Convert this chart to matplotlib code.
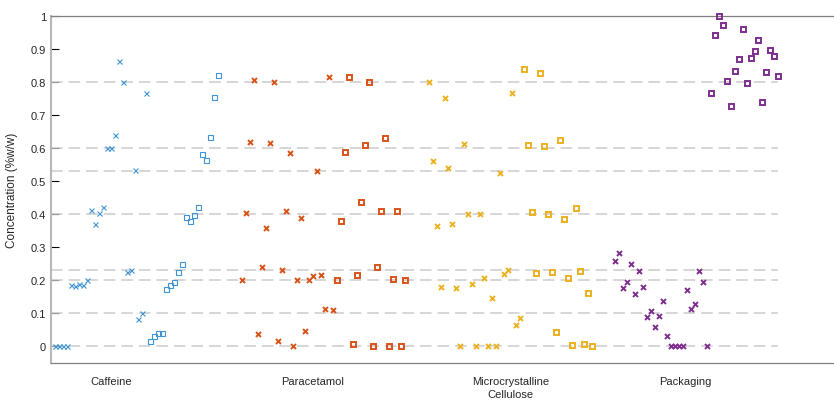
import matplotlib

matplotlib.use("Agg")
import matplotlib.pyplot as plt
import numpy as np

plt.rcParams["font.family"] = ["Liberation Sans", "DejaVu Sans"]

# Predicted (x markers) and reference (squares) concentrations, %w/w
components = ["Caffeine", "Paracetamol", "Microcrystalline\nCellulose", "Packaging"]

caffeine_pred = [0.0, 0.0, 0.0, 0.0, 0.187, 0.182, 0.19, 0.185, 0.2, 0.414, 0.37, 0.405,
                 0.423, 0.6, 0.6, 0.64, 0.863, 0.80, 0.224, 0.232, 0.535, 0.084, 0.102, 0.768]
caffeine_ref = [0.018, 0.032, 0.042, 0.042, 0.173, 0.185, 0.196, 0.224, 0.249, 0.393,
                0.379, 0.397, 0.421, 0.581, 0.565, 0.634, 0.756, 0.822]

paracetamol_pred = [0.2, 0.405, 0.62, 0.806, 0.037, 0.24, 0.358, 0.615, 0.80, 0.017, 0.231,
                    0.411, 0.585, 0.001, 0.2, 0.389, 0.046, 0.2, 0.212, 0.53, 0.215, 0.114,
                    0.814, 0.11]
paracetamol_ref = [0.2, 0.379, 0.589, 0.816, 0.009, 0.215, 0.436, 0.610, 0.80, 0.002, 0.241,
                   0.411, 0.630, 0.001, 0.203, 0.411, 0.002, 0.2]

mcc_pred = [0.80, 0.56, 0.366, 0.179, 0.751, 0.539, 0.370, 0.177, 0.0, 0.613, 0.402, 0.188,
            0.0, 0.400, 0.208, 0.0, 0.148, 0.0, 0.525, 0.218, 0.232, 0.766, 0.064, 0.085]
mcc_ref = [0.839, 0.609, 0.406, 0.221, 0.827, 0.606, 0.401, 0.225, 0.044, 0.626, 0.387,
           0.208, 0.006, 0.418, 0.227, 0.008, 0.163, 0.0]

packaging_pred = [0.258, 0.284, 0.177, 0.196, 0.250, 0.159, 0.227, 0.180, 0.088, 0.108,
                  0.058, 0.091, 0.138, 0.033, 0.0, 0.0, 0.0, 0.0, 0.171, 0.112, 0.130,
                  0.228, 0.194, 0.0]
packaging_ref = [0.766, 0.944, 1.0, 0.972, 0.802, 0.729, 0.834, 0.870, 0.960, 0.798, 0.873,
                 0.894, 0.927, 0.741, 0.831, 0.897, 0.878, 0.819]

# Nominal concentration levels of the calibration design
levels = [0, 0.1, 0.2, 0.23, 0.4, 0.53, 0.6, 0.8]

yticks = [0, 0.1, 0.2, 0.3, 0.4, 0.5, 0.6, 0.7, 0.8, 0.9, 1]
yticklabels = ["0", "0.1", "0.2", "0.3", "0.4", "0.5", "0.6", "0.7", "0.8", "0.9", "1"]

groups = [
    (caffeine_pred, caffeine_ref, "#3f93d2", 0.8),
    (paracetamol_pred, paracetamol_ref, "#D95319", 1.4),
    (mcc_pred, mcc_ref, "#EDB120", 1.4),
    (packaging_pred, packaging_ref, "#7E2F8E", 1.4),
]

GAP = 5  # empty sample slots between components

fig = plt.figure(figsize=(8.34, 4.02), dpi=100)
ax = fig.add_axes([0.0612, 0.0945, 0.9388, 0.8632])

start = 1
for pred, ref, color, lw in groups:
    xp = start + np.arange(len(pred))
    xr = start + len(pred) + np.arange(len(ref))
    ax.plot(xp, pred, linestyle="none", marker="x", markersize=3.6, mew=lw,
            color=color, zorder=3, clip_on=False)
    ax.plot(xr, ref, linestyle="none", marker="s", markersize=3.6, mew=lw,
            markerfacecolor="none", markeredgecolor=color, zorder=3, clip_on=False)
    start = xr[-1] + 1 + GAP

last = start - 1 - GAP
ax.hlines(levels, 0, last, colors="#cccccc", linewidth=1.1,
          linestyles=(0, (7.6, 3.9)), zorder=2)

ax.set_xlim(0, 197)
ax.set_ylim(-0.05, 1)

ax.set_xticks([15.2, 65.9, 115.6, 159.5])
ax.set_xticklabels(components, fontsize=8, color="#262626", linespacing=1.45)
ax.tick_params(axis="x", length=0, pad=9)

ax.set_yticks(yticks)
ax.set_yticklabels(yticklabels, fontsize=8, color="#262626")
ax.tick_params(axis="y", direction="in", length=6, width=0.8, color="black", pad=3.6)
ax.set_axisbelow(True)

ax.set_ylabel("Concentration (%w/w)", fontsize=8.5, color="#262626")
ax.yaxis.set_label_coords(-0.042, 0.5)

ax.spines["left"].set_color("#b8b8b8")
ax.spines["left"].set_linewidth(1.5)
for side in ("top", "bottom"):
    ax.spines[side].set_color("#808080")
    ax.spines[side].set_linewidth(0.9)
ax.spines["right"].set_visible(False)

fig.savefig("out.png", dpi=100)
